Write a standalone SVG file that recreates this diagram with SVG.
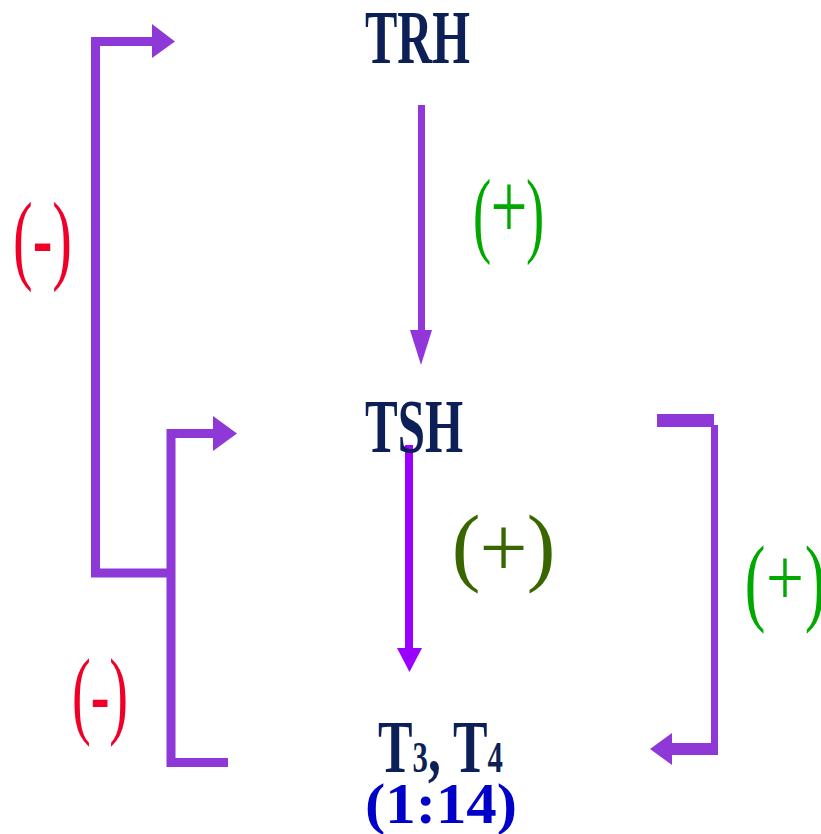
<svg xmlns="http://www.w3.org/2000/svg" width="821" height="834" viewBox="0 0 821 834">
  <style>
    .node { font-family: "Liberation Serif", "Times New Roman", serif; font-weight: bold; fill: #0d1f57; text-anchor: middle; }
    .sign { font-family: "Liberation Serif", "Times New Roman", serif; text-anchor: middle; }
    .neg { fill: #f00028; }
    .pos { fill: #00a800; }
    .posdark { fill: #3a6600; }
    .loop { fill: none; stroke: #8f38d8; stroke-linejoin: miter; }
    .loophead { fill: #8f38d8; }
  </style>
  <rect width="821" height="834" fill="#ffffff"/>

  <g id="connectors">
    <!-- TRH -> TSH -->
    <line x1="421.5" y1="105" x2="421.5" y2="333" stroke="#9236d9" stroke-width="7"/>
    <polygon points="410,330 432,330 421,365" fill="#9236d9"/>
    <!-- TSH -> T3, T4 -->
    <line x1="409" y1="445" x2="409" y2="650" stroke="#9900ff" stroke-width="8"/>
    <polygon points="397,648 422,648 409.5,672" fill="#9900ff"/>
    <!-- outer negative loop back to TRH -->
    <path class="loop" d="M153,41.5 H95.5 V573 H171" stroke-width="9"/>
    <polygon class="loophead" points="152,24 175,41.5 152,58"/>
    <!-- inner negative loop back to TSH -->
    <path class="loop" d="M214,433.5 H171 V762.5 H228" stroke-width="9"/>
    <polygon class="loophead" points="213,416 237,433.5 213,451"/>
    <!-- positive loop from TSH to T3, T4 -->
    <rect x="657" y="414" width="57" height="13" fill="#8f38d8"/>
    <rect x="711" y="425" width="7" height="322" fill="#8f38d8"/>
    <rect x="670" y="743" width="48" height="12" fill="#8f38d8"/>
    <polygon class="loophead" points="672,733 650,749 672,765"/>

    <!-- loop labels: negative -->
    <text class="sign neg" font-size="100" transform="translate(42.5,271) scale(0.59,1)">(-)</text>
    <text class="sign neg" font-size="97" transform="translate(100,726) scale(0.58,1)">(-)</text>

    <!-- loop label: TRH -> TSH -->
    <g class="sign pos">
      <text font-size="96" transform="translate(482,245) scale(0.57,1)">(</text>
      <text font-size="95" transform="translate(509,238) scale(0.69,1)">+</text>
      <text font-size="96" transform="translate(535,245) scale(0.57,1)">)</text>
    </g>
    <!-- loop label: TSH -> T3, T4 -->
    <g class="sign posdark">
      <text font-size="86" transform="translate(466,575)">(</text>
      <text font-size="87" transform="translate(503.5,577) scale(0.98,1)">+</text>
      <text font-size="86" transform="translate(541,575)">)</text>
    </g>
    <!-- loop label: right positive loop -->
    <g class="sign pos">
      <text font-size="97" transform="translate(755,613) scale(0.64,1)">(</text>
      <text font-size="83" transform="translate(785,605) scale(0.81,1)">+</text>
      <text font-size="97" transform="translate(815,613) scale(0.64,1)">)</text>
    </g>
  </g>

  <g id="trh">
    <text class="node" font-size="77" transform="translate(417.5,63) scale(0.63,1)">TRH</text>
  </g>

  <g id="tsh">
    <text class="node" font-size="76" transform="translate(414,452) scale(0.645,1)">TSH</text>
  </g>

  <g id="t3t4">
    <text class="node" font-size="74" transform="translate(440.5,772) scale(0.7,1)">T<tspan font-size="44">3</tspan>, T<tspan font-size="44">4</tspan></text>
    <text class="node" font-size="58" style="fill:#0000c8" transform="translate(441,823) scale(1.05,1)">(1:14)</text>
  </g>
</svg>
